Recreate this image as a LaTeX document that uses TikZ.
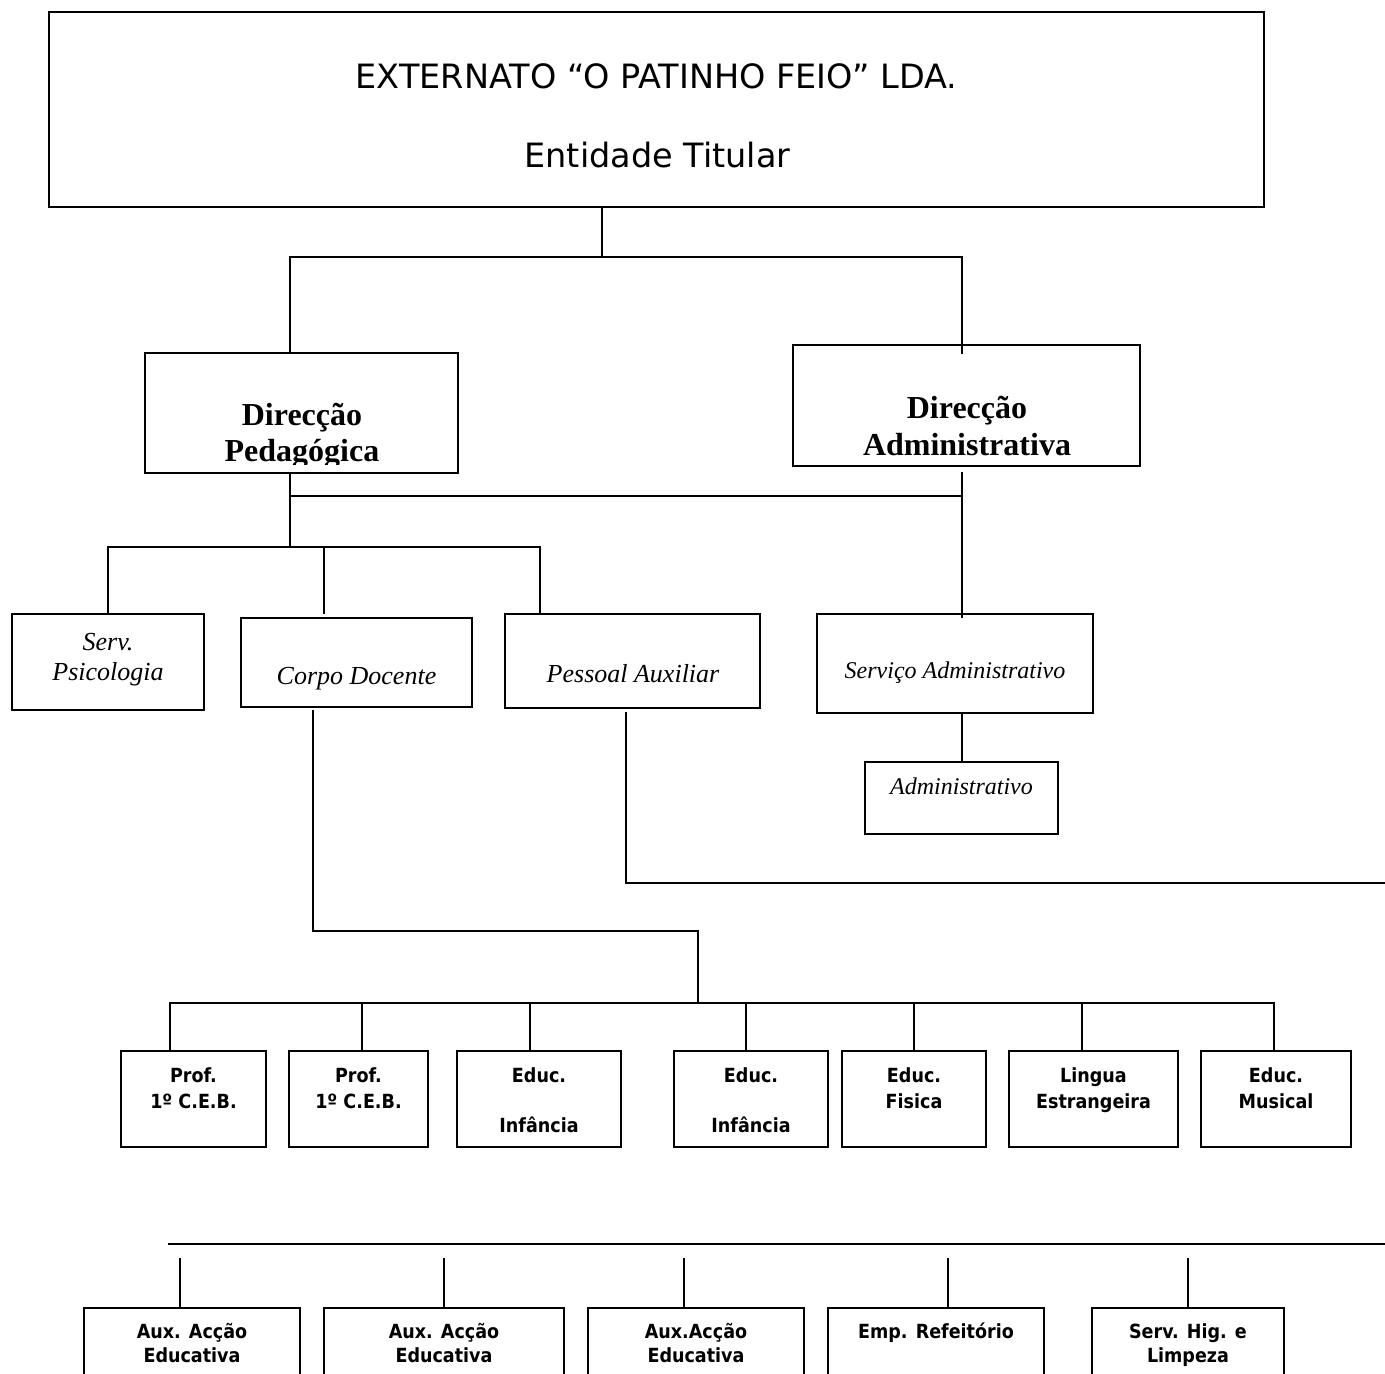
\documentclass[tikz,border=0pt]{standalone}
\usepackage{fontspec}
\setmainfont{Liberation Serif}
\newfontfamily\tahfont{DejaVu Sans}
\newfontfamily\rowfont{DejaVu Sans Condensed}
\tikzset{
  box/.style={draw, line width=1.8pt, inner sep=0pt, outer sep=0pt},
  conn/.style={line width=1.8pt, line cap=rect},
  lbl/.style={anchor=base, inner sep=0pt, outer sep=0pt, align=center},
  titlefont/.style={font=\tahfont\fontsize{33.5}{40}\selectfont},
  dirfont/.style={font=\bfseries\fontsize{32}{36}\selectfont},
  itfont/.style={font=\itshape\fontsize{26}{30}\selectfont},
  itsmall/.style={font=\itshape\fontsize{24}{28}\selectfont},
  rowtext/.style={font=\rowfont\bfseries\fontsize{19.5}{24}\selectfont},
}
\newcommand{\bx}[6]{\node[box, minimum width=#4pt, minimum height=#5pt] (#1) at (#2,#3) {#6};}
\begin{document}
\begin{tikzpicture}[x=1pt,y=-1pt]
\useasboundingbox (0,0) rectangle (1385,1374);
\clip (0,0) rectangle (1385,1374);
% ---- boxes
\bx{top}{656.5}{109.5}{1215}{195}{}
\bx{dp}{301.5}{413}{313}{120}{}
\bx{da}{966.5}{405.5}{347}{121}{}
\bx{psic}{108}{662}{192}{96}{}
\bx{corpo}{356.5}{662.5}{231}{89}{}
\bx{pess}{632.5}{661}{255}{94}{}
\bx{sadm}{955}{663.5}{276}{99}{}
\bx{adm}{961.5}{798}{193}{72}{}
\bx{prof1}{193.5}{1099}{145}{96}{}
\bx{prof2}{358.5}{1099}{139}{96}{}
\bx{educ1}{539}{1099}{164}{96}{}
\bx{educ2}{751}{1099}{154}{96}{}
\bx{fis}{914}{1099}{144}{96}{}
\bx{ling}{1093.5}{1099}{169}{96}{}
\bx{mus}{1276}{1099}{150}{96}{}
\bx{aux1}{192}{1354}{216}{92}{}
\bx{aux2}{444}{1354}{240}{92}{}
\bx{aux3}{696}{1354}{216}{92}{}
\bx{emp}{936}{1354}{216}{92}{}
\bx{hig}{1188}{1354}{192}{92}{}
% ---- junction coordinates
\coordinate (j0) at (602,257);
\coordinate (jl) at (290,257);
\coordinate (jr) at (962,257);
\coordinate (dain) at (962,353);
\coordinate (dpout) at (290,473);
\coordinate (daout) at (962,473);
\coordinate (h1l) at (290,496);
\coordinate (h1r) at (962,496);
\coordinate (dpend) at (290,547);
\coordinate (h2l) at (108,547);
\coordinate (h2m) at (324,547);
\coordinate (h2r) at (540,547);
\coordinate (corpoend) at (324,613);
\coordinate (sadmin) at (962,617);
\coordinate (c1) at (313,711);
\coordinate (c2) at (313,931);
\coordinate (c3) at (698,931);
\coordinate (c4) at (698,1003);
\coordinate (p1) at (626,713);
\coordinate (p2) at (626,883);
\coordinate (p3) at (1390,883);
\coordinate (bl) at (170,1003);
\coordinate (br) at (1274,1003);
\coordinate (ql) at (169,1244);
\coordinate (qr) at (1390,1244);
% ---- connectors (upper)
\draw[conn] (top.south -| j0) -- (j0);
\draw[conn] (dp.north -| jl) -- (jl) -- (jr) -- (dain);
\draw[conn] (dpout) -- (dpend);
\draw[conn] (h1l) -- (h1r);
\draw[conn] (daout) -- (sadmin);
\draw[conn] (psic.north -| h2l) -- (h2l) -- (h2r) -- (pess.north -| h2r);
\draw[conn] (h2m) -- (corpoend);
\draw[conn] (sadm.south -| sadmin) -- (adm.north -| sadmin);
\draw[conn] (p1) -- (p2) -- (p3);
\draw[conn] (c1) -- (c2) -- (c3) -- (c4);
% ---- connectors (teachers row)
\draw[conn] (prof1.north -| bl) -- (bl) -- (br) -- (mus.north -| br);
\foreach \n/\x in {prof2/362, educ1/530, educ2/746, fis/914, ling/1082}
  \draw[conn] (\x,1003) -- (\n.north -| \x,0);
% ---- connectors (auxiliary row)
\draw[conn] (ql) -- (qr);
\foreach \n/\x in {aux1/180, aux2/444, aux3/684, emp/948, hig/1188}
  \draw[conn] (\x,1259) -- (\n.north -| \x,0);
% ---- texts
\node[lbl, titlefont] (t1) at (656.5,88) {EXTERNATO “O PATINHO FEIO” LDA.};
\node[lbl, titlefont] (t2) at (657.5,167) {Entidade Titular};
\node[lbl, dirfont] (dp1) at (302,425) {Direcção};
\begin{scope}
\clip (146,430) rectangle (458,464);
\node[lbl, dirfont] (dp2) at (302,461) {Pedagógica};
\end{scope}
\node[lbl, dirfont] (da1) at (967,418) {Direcção};
\node[lbl, dirfont] (da2) at (967,455) {Administrativa};
\node[lbl, itfont] (ps1) at (108,650) {Serv.};
\node[lbl, itfont] (ps2) at (108,680) {Psicologia};
\node[lbl, itfont] (cd) at (356.5,684) {Corpo Docente};
\node[lbl, itfont] (pa) at (633,682) {Pessoal Auxiliar};
\node[lbl, itsmall] (sa) at (955,678) {Serviço Administrativo};
\node[lbl, itsmall] (ad) at (961.5,794) {Administrativo};
\node[lbl, rowtext] (r1a) at (193.5,1082) {Prof.};
\node[lbl, rowtext] (r1b) at (193.5,1108) {1º C.E.B.};
\node[lbl, rowtext] (r2a) at (358.5,1082) {Prof.};
\node[lbl, rowtext] (r2b) at (358.5,1108) {1º C.E.B.};
\node[lbl, rowtext] (r3a) at (539,1082) {Educ.};
\node[lbl, rowtext] (r3b) at (539,1132) {Infância};
\node[lbl, rowtext] (r4a) at (751,1082) {Educ.};
\node[lbl, rowtext] (r4b) at (751,1132) {Infância};
\node[lbl, rowtext] (r5a) at (914,1082) {Educ.};
\node[lbl, rowtext] (r5b) at (914,1108) {Fisica};
\node[lbl, rowtext] (r6a) at (1093.5,1082) {Lingua};
\node[lbl, rowtext] (r6b) at (1093.5,1108) {Estrangeira};
\node[lbl, rowtext] (r7a) at (1276,1082) {Educ.};
\node[lbl, rowtext] (r7b) at (1276,1108) {Musical};
\node[lbl, rowtext] (a1a) at (192,1338) {Aux. Acção};
\node[lbl, rowtext] (a1b) at (192,1362) {Educativa};
\node[lbl, rowtext] (a2a) at (444,1338) {Aux. Acção};
\node[lbl, rowtext] (a2b) at (444,1362) {Educativa};
\node[lbl, rowtext] (a3a) at (696,1338) {Aux.Acção};
\node[lbl, rowtext] (a3b) at (696,1362) {Educativa};
\node[lbl, rowtext] (e1) at (936,1338) {Emp. Refeitório};
\node[lbl, rowtext] (h1) at (1188,1338) {Serv. Hig. e};
\node[lbl, rowtext] (h2) at (1188,1362) {Limpeza};
\end{tikzpicture}
\end{document}
